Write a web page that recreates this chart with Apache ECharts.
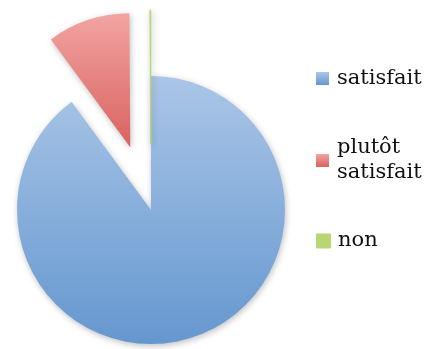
<!DOCTYPE html>
<html>
<head>
<meta charset="utf-8">
<script src="https://cdn.jsdelivr.net/npm/echarts@6/dist/echarts.min.js"></script>
<style>
html,body{margin:0;padding:0;background:#fff;}
#c{width:430px;height:349px;}
</style>
</head>
<body>
<div id="c"></div>
<script>
// Data
var categories = ['satisfait', 'plutôt satisfait', 'non'];
var values = [90, 10, 0.1];
var exploded = [false, true, true];

var legendLabels = ['satisfait', 'plutôt\nsatisfait', 'non'];

var sliceColors = [
  new echarts.graphic.LinearGradient(0, 0, 0, 1, [{offset: 0, color: '#aac6e7'}, {offset: 1, color: '#6597cf'}]),
  new echarts.graphic.LinearGradient(0, 0, 0, 1, [{offset: 0, color: '#f2a4a3'}, {offset: 1, color: '#d9625f'}]),
  '#b9d675'
];

var data = categories.map(function (c, i) {
  var item = {
    name: c,
    value: values[i],
    selected: exploded[i],
    itemStyle: {color: sliceColors[i]}
  };
  if (i === 2) {
    item.itemStyle.borderColor = '#b9d675';
    item.itemStyle.borderWidth = 1;
  }
  return item;
});

function legendFor(i, top, pad) {
  return {
    show: true,
    orient: 'vertical',
    left: 316,
    top: top,
    padding: 0,
    data: [categories[i]],
    icon: 'rect',
    itemWidth: 13,
    itemHeight: 13,
    selectedMode: false,
    formatter: function () { return legendLabels[i]; },
    textStyle: {
      fontFamily: 'DejaVu Serif',
      fontSize: 21,
      color: '#111',
      lineHeight: 25,
      padding: [pad, 0, 0, 3]
    }
  };
}

var chart = echarts.init(document.getElementById('c'), null, {renderer: 'canvas'});
chart.setOption({
  animation: false,
  backgroundColor: '#fff',
  legend: [
    legendFor(0, 63, 6),
    legendFor(1, 120, 31),
    legendFor(2, 225.5, 6)
  ],
  series: [{
    type: 'pie',
    center: [151, 210],
    radius: [0, 134],
    startAngle: 90,
    clockwise: true,
    selectedMode: 'multiple',
    selectedOffset: 66,
    label: {show: false},
    labelLine: {show: false},
    emphasis: {disabled: true},
    itemStyle: {
      shadowBlur: 6,
      shadowColor: 'rgba(0,0,0,0.25)',
      shadowOffsetX: 1,
      shadowOffsetY: 2
    },
    data: data
  }]
});
</script>
</body>
</html>
